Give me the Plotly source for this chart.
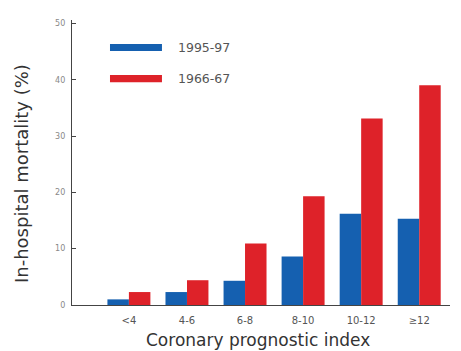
import plotly.graph_objects as go

# In-hospital mortality by coronary prognostic index, two study periods
categories = ["<4", "4-6", "6-8", "8-10", "10-12", "≥12"]
period_recent = "1995-97"
period_early = "1966-67"
mortality_recent = [1.0, 2.3, 4.3, 8.6, 16.2, 15.3]
mortality_early = [2.3, 4.4, 10.9, 19.3, 33.1, 39.0]
y_ticks = [0, 10, 20, 30, 40, 50]

BLUE = "#1560b0"
RED = "#de2229"
FONT = "DejaVu Sans, Verdana, sans-serif"

x_idx = list(range(len(categories)))

fig = go.Figure()
fig.add_trace(go.Bar(x=x_idx, y=mortality_recent, name=period_recent,
                     marker=dict(color=BLUE, line=dict(width=0))))
fig.add_trace(go.Bar(x=x_idx, y=mortality_early, name=period_early,
                     marker=dict(color=RED, line=dict(width=0))))

# Legend drawn as long swatches with labels beside them
legend_rows = [(period_recent, BLUE, 0.916, 0.891, 0.902),
               (period_early, RED, 0.807, 0.782, 0.793)]
shapes = []
annotations = []
for label, color, y1, y0, ytxt in legend_rows:
    shapes.append(dict(type="rect", xref="paper", yref="paper",
                       x0=0.1005, x1=0.238, y0=y0, y1=y1,
                       fillcolor=color, line=dict(width=0)))
    annotations.append(dict(text=label, xref="paper", yref="paper",
                            x=0.276, y=ytxt, xanchor="left", yanchor="middle",
                            showarrow=False, font=dict(size=12.5, color="#555", family=FONT)))

annotations.append(dict(text="In-hospital mortality (%)", xref="paper", yref="paper",
                        x=-0.135, y=0.463, textangle=-90, showarrow=False,
                        xanchor="center", yanchor="middle",
                        font=dict(size=18, color="#333", family=FONT)))
annotations.append(dict(text="Coronary prognostic index", xref="paper", yref="paper",
                        x=0.492, y=-0.124, showarrow=False,
                        xanchor="center", yanchor="middle",
                        font=dict(size=17, color="#333", family=FONT)))

fig.update_layout(
    width=461, height=351,
    margin=dict(l=72, r=11, t=20, b=46),
    paper_bgcolor="white", plot_bgcolor="white",
    barmode="group", bargap=0.26, bargroupgap=0,
    showlegend=False,
    shapes=shapes, annotations=annotations,
    font=dict(family=FONT),
    xaxis=dict(range=[-0.98, 5.53], tickvals=x_idx, ticktext=categories,
               showline=True, linecolor="#444", linewidth=1.2,
               ticks="", showgrid=False, zeroline=False, ticklabelstandoff=6,
               tickfont=dict(size=10, color="#555")),
    yaxis=dict(range=[0, 50.6], tickvals=y_ticks,
               showline=True, linecolor="#444", linewidth=1.2,
               ticks="inside", ticklen=4, tickcolor="#444",
               showgrid=False, zeroline=False, ticklabelstandoff=4,
               tickfont=dict(size=8, color="#888")),
)

fig.write_html("out.html")
